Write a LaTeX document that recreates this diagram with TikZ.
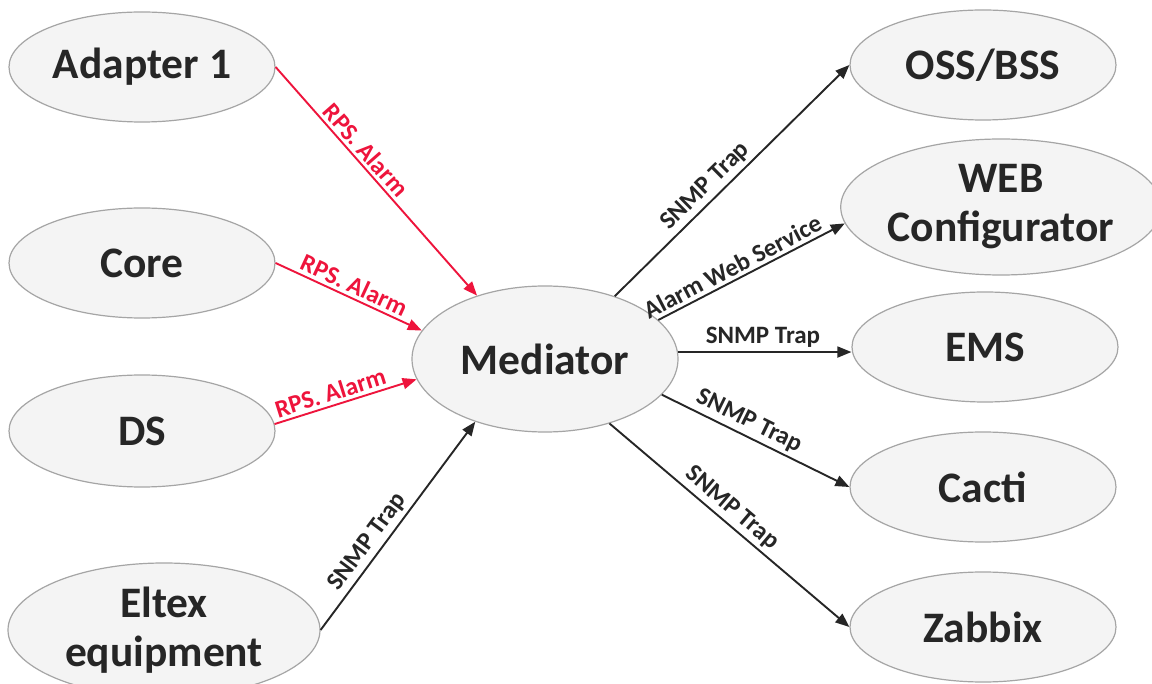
\documentclass[tikz,border=0pt]{standalone}
\usepackage{fontspec}
\setmainfont{Carlito}
\usetikzlibrary{arrows.meta,shapes.geometric}
\definecolor{redc}{RGB}{238,20,60}
\definecolor{fillc}{RGB}{244,244,244}
\definecolor{bordc}{RGB}{165,165,165}
\definecolor{txtc}{RGB}{38,38,38}
\begin{document}
\begin{tikzpicture}[x=1pt,y=-1pt,
  ent/.style={ellipse, draw=bordc, line width=1.2pt, fill=fillc, inner sep=0pt, text=txtc,
    font=\fontsize{43.5}{49}\selectfont\bfseries, align=center},
  conn/.style={line width=1.9pt, draw=txtc, -{Triangle[length=14pt,width=11pt]}},
  rconn/.style={conn, draw=redc, fill=redc},
  lbl/.style={sloped, above, font=\fontsize{25}{28}\selectfont\bfseries, text=txtc, inner sep=3.5pt},
  rlbl/.style={lbl, text=redc}]
\useasboundingbox (0,0) rectangle (1152,684);
\fill[white] (0,0) rectangle (1152,684);

\node[ent, minimum width=266pt, minimum height=110pt] (ad) at (142,67) {Adapter 1};
\node[ent, minimum width=266pt, minimum height=110pt] (core) at (142,263) {Core};
\node[ent, minimum width=266pt, minimum height=112pt] (ds) at (142,431) {DS};
\node[ent, minimum width=312pt, minimum height=134pt] (elt) at (164,630) {Eltex\\equipment};
\node[ent, minimum width=266pt, minimum height=146pt] (med) at (545,359) {Mediator};
\node[ent, minimum width=266pt, minimum height=110pt] (oss) at (983,65) {OSS/BSS};
\node[ent, minimum width=302pt, minimum height=136pt] (web) at (1001,207) {WEB\\Configurator};
\node[ent, minimum width=266pt, minimum height=110pt] (ems) at (985,347) {EMS};
\node[ent, minimum width=266pt, minimum height=110pt] (cacti) at (983,487) {Cacti};
\node[ent, minimum width=266pt, minimum height=110pt] (zab) at (983,627) {Zabbix};

\draw[rconn] (ad.east) -- node[rlbl, pos=0.4] {RPS. Alarm} (med.137);
\draw[rconn] (core.east) -- node[rlbl, pos=0.5] {RPS. Alarm} (med.167);
\draw[rconn] (ds.3) -- node[rlbl, pos=0.42] {RPS. Alarm} (med.189);
\draw[conn] (elt.east) -- node[lbl, pos=0.38] {SNMP Trap} (med.222);

\draw[conn] (med.42) -- node[lbl, pos=0.43] {SNMP Trap} (oss.west);
\draw[conn] (med.19) -- node[lbl, pos=0.43] {Alarm Web Service} (web.186);
\draw[conn] (med.3) -- node[lbl, pos=0.49] {SNMP Trap} (med.3 -| ems.west);
\draw[conn] (med.343) -- node[lbl, pos=0.43] {SNMP Trap} (cacti.west);
\draw[conn] (med.315) -- node[lbl, pos=0.47] {SNMP Trap} (zab.west);
\end{tikzpicture}
\end{document}
